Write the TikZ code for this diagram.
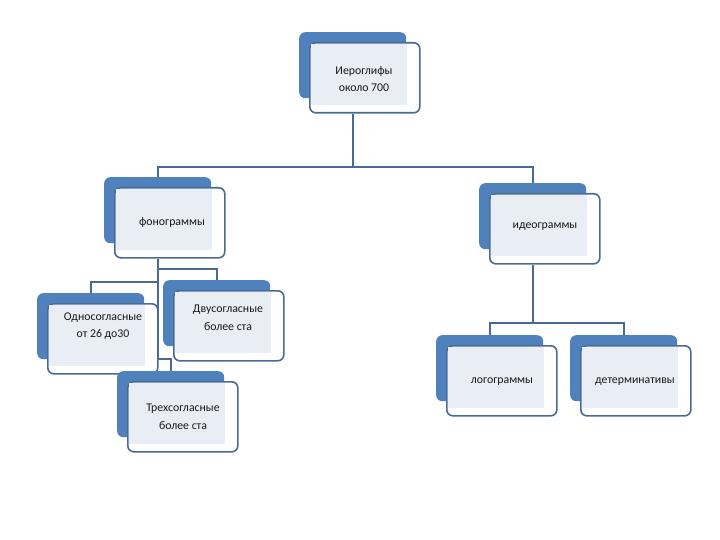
\documentclass[tikz,border=0pt]{standalone}
\usepackage{fontspec}
\setmainfont{Carlito}
\usetikzlibrary{positioning}
\definecolor{backblue}{HTML}{4F81BD}
\definecolor{edgeblue}{HTML}{4A6A96}
\definecolor{innergrey}{HTML}{E9EDF4}
% one SmartArt-like item: name, back corner x/y, text x/y, text
\newcommand{\orgitem}[6]{%
  \node[backbox,anchor=north west] (#1b) at (#2,#3) {};
  \node[frontbox,below right=10pt and 10pt of #1b.north west] (#1) {};
  \fill[innergrey] ([shift={(2,2)}]#1.north west) rectangle ([shift={(-14,-9)}]#1.south east);
  \node[itemtext] (#1t) at (#4,#5) {#6};
}

\begin{document}
\begin{tikzpicture}[x=1pt,y=-1pt,
  backbox/.style={fill=backblue,rounded corners=6pt,minimum width=107pt,minimum height=66pt,inner sep=0pt},
  frontbox/.style={draw=edgeblue,fill=white,line width=1.6pt,rounded corners=6pt,minimum width=110pt,minimum height=70pt,inner sep=0pt},
  itemtext/.style={font=\fontsize{11.8}{17.5}\selectfont,align=center,text=black!90,inner sep=1pt},
  link/.style={draw=edgeblue,line width=1.8pt}]
\useasboundingbox (0,0) rectangle (720,540);
\orgitem{hier}{299}{32}{364}{79}{Иероглифы\\около 700}
\orgitem{fono}{104}{177}{172}{222}{фонограммы}
\orgitem{ideo}{479}{183}{545}{227}{идеограммы}
\orgitem{odno}{37}{293}{103}{326}{Односогласные\\от 26 до30}
\orgitem{dvu}{163}{280}{228}{318}{Двусогласные\\более ста}
\orgitem{trex}{117}{371}{183}{417}{Трехсогласные\\более ста}
\orgitem{logo}{436}{335}{502}{382}{логограммы}
\orgitem{det}{570}{335}{635}{382}{детерминативы}
% bus levels
\coordinate (topbus) at (0,167);
\coordinate (dvubus) at (0,269);
\coordinate (odnobus) at (0,282);
\coordinate (trexbus) at (0,359);
\coordinate (ideobus) at (0,323);
\draw[link] (hierb |- hier.south) -- (hierb |- topbus) -| (fonob.north);
\draw[link] (hierb |- topbus) -| (ideob.north);
\draw[link] (fonob |- fono.south) -- (fonob |- trexbus) -| (trexb.north);
\draw[link] (fonob |- dvubus) -| (dvub.north);
\draw[link] (fonob |- odnobus) -| (odnob.north);
\draw[link] (ideob |- ideo.south) -- (ideob |- ideobus) -| (logob.north);
\draw[link] (ideob |- ideobus) -| (detb.north);
\end{tikzpicture}
\end{document}
